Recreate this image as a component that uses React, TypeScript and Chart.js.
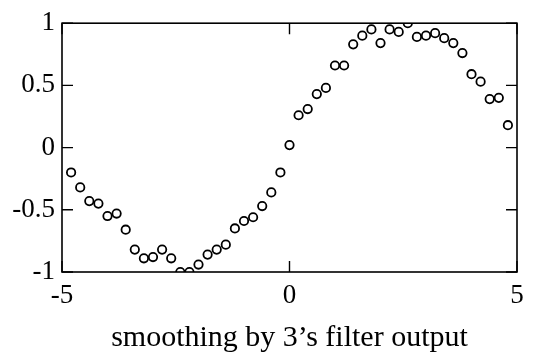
import React, { useEffect, useRef } from "react";
import { Chart, registerables } from "chart.js";

Chart.register(...registerables);

const xValues = [
  -4.8, -4.6, -4.4, -4.2, -4.0, -3.8, -3.6, -3.4, -3.2, -3.0,
  -2.8, -2.6, -2.4, -2.2, -2.0, -1.8, -1.6, -1.4, -1.2, -1.0,
  -0.8, -0.6, -0.4, -0.2, 0.0, 0.2, 0.4, 0.6, 0.8, 1.0,
  1.2, 1.4, 1.6, 1.8, 2.0, 2.2, 2.4, 2.6, 2.8, 3.0,
  3.2, 3.4, 3.6, 3.8, 4.0, 4.2, 4.4, 4.6, 4.8,
];
const yValues = [
  -0.2, -0.32, -0.43, -0.45, -0.55, -0.53, -0.66, -0.82, -0.89, -0.88,
  -0.82, -0.89, -1.0, -1.0, -0.94, -0.86, -0.82, -0.78, -0.65, -0.59,
  -0.56, -0.47, -0.36, -0.2, 0.02, 0.26, 0.31, 0.43, 0.48, 0.66,
  0.66, 0.83, 0.9, 0.95, 0.84, 0.95, 0.93, 1.0, 0.89, 0.9,
  0.92, 0.88, 0.84, 0.76, 0.59, 0.53, 0.39, 0.4, 0.18,
];
const xTicks = [-5, 0, 5];
const yTicks = [-1, -0.5, 0, 0.5, 1];
const xTitle = "smoothing by 3\u2019s filter output";

const FONT = "'Liberation Serif', 'Times New Roman', serif";

const framePlugin = {
  id: "frameTicks",
  afterDraw(chart: any) {
    const { ctx, chartArea } = chart;
    const { left, right, top, bottom } = chartArea;
    const xs = chart.scales.x;
    const ys = chart.scales.y;
    ctx.save();
    ctx.strokeStyle = "#000";
    ctx.lineWidth = 1.6;
    ctx.strokeRect(left, top, right - left, bottom - top);
    const len = 11;
    ctx.lineWidth = 1.4;
    ctx.beginPath();
    xTicks.forEach((v) => {
      const px = xs.getPixelForValue(v);
      ctx.moveTo(px, bottom);
      ctx.lineTo(px, bottom - len);
      ctx.moveTo(px, top);
      ctx.lineTo(px, top + len);
    });
    yTicks.forEach((v) => {
      const py = ys.getPixelForValue(v);
      ctx.moveTo(left, py);
      ctx.lineTo(left + len, py);
      ctx.moveTo(right, py);
      ctx.lineTo(right - len, py);
    });
    ctx.stroke();
    ctx.restore();
  },
};

export default function App() {
  const ref = useRef<HTMLCanvasElement>(null);
  useEffect(() => {
    document.body.style.margin = "0";
    const data = xValues.map((x, i) => ({ x, y: yValues[i] }));
    const chart = new Chart(ref.current!, {
      type: "scatter",
      data: {
        datasets: [
          {
            data,
            pointStyle: "circle",
            pointRadius: 4.2,
            pointBorderWidth: 1.8,
            pointBorderColor: "#000",
            pointBackgroundColor: "rgba(0,0,0,0)",
            showLine: false,
          },
        ],
      },
      options: {
        responsive: false,
        animation: false,
        events: [],
        layout: { padding: { top: 22, right: 30, left: 0, bottom: 0 } },
        plugins: { legend: { display: false }, tooltip: { enabled: false } },
        scales: {
          x: {
            type: "linear",
            min: -5,
            max: 5,
            afterBuildTicks: (s: any) => {
              s.ticks = xTicks.map((v) => ({ value: v }));
            },
            afterFit: (s: any) => {
              s.height = 88;
            },
            grid: { display: false, drawTicks: false },
            border: { display: false },
            ticks: {
              color: "#000",
              padding: 8,
              maxRotation: 0,
              font: { family: FONT, size: 27 },
            },
            title: {
              display: true,
              text: xTitle,
              color: "#000",
              font: { family: FONT, size: 30 },
              padding: { top: 0, bottom: 4 },
            },
          },
          y: {
            type: "linear",
            min: -1,
            max: 1,
            afterBuildTicks: (s: any) => {
              s.ticks = yTicks.map((v) => ({ value: v }));
            },
            afterFit: (s: any) => {
              s.width = 62;
            },
            grid: { display: false, drawTicks: false },
            border: { display: false },
            ticks: {
              color: "#000",
              padding: 7,
              font: { family: FONT, size: 27 },
              callback: (v: any) => String(v),
            },
          },
        },
      },
      plugins: [framePlugin],
    });
    return () => chart.destroy();
  }, []);
  return (
    <div style={{ width: 547, height: 360, background: "#fff" }}>
      <canvas ref={ref} width={547} height={360} style={{ display: "block" }} />
    </div>
  );
}
